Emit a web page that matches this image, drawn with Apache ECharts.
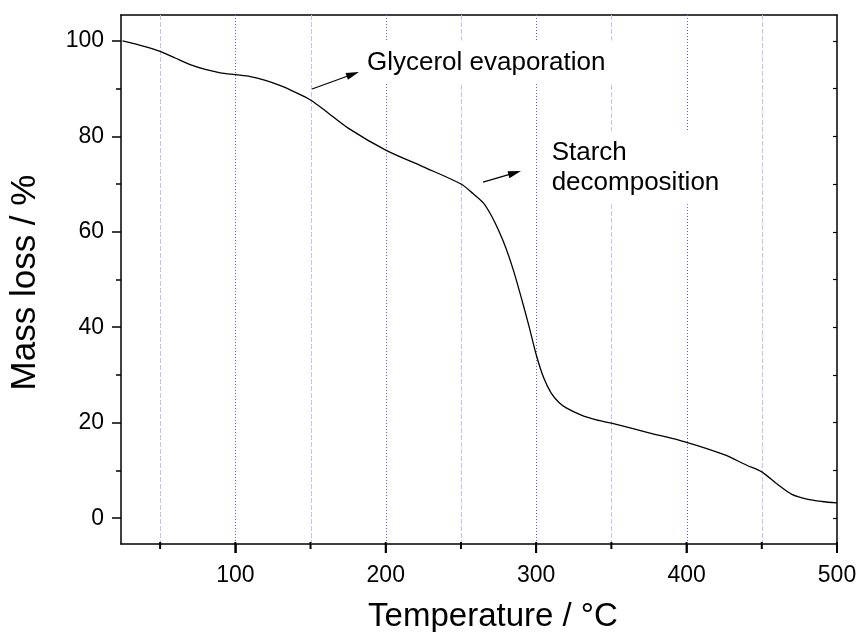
<!DOCTYPE html>
<html>
<head>
<meta charset="utf-8">
<script src="https://cdn.jsdelivr.net/npm/echarts@6/dist/echarts.min.js"></script>
<style>
html,body{margin:0;padding:0;background:#fff;}
#c{width:861px;height:632px;}
</style>
</head>
<body>
<div id="c"></div>
<script>
// ---- data ----
const temps = [25,40,50,60,70,80,90,100,110,120,130,140,150,160,175,200,225,250,258,265,270,275,280,285,290,295,300,305,310,315,320,330,340,350,375,400,425,440,450,460,470,480,490,500];
const massLoss = [100.0,98.8,97.8,96.4,95.0,94.0,93.3,92.9,92.5,91.7,90.6,89.2,87.6,85.3,81.7,77.1,73.6,70.0,68.0,66.0,63.5,60.3,56.5,51.8,46.3,40.5,34.3,29.4,26.2,24.3,23.1,21.6,20.6,19.9,17.9,15.9,13.3,11.1,9.7,7.2,5.0,4.0,3.5,3.2];
const xTickLabels = [100,200,300,400,500];
const xMinorTicks = [50,150,250,350,450];
const yTickLabels = [0,20,40,60,80,100];
const yMinorTicks = [10,30,50,70,90];
const yRightTicks = [0,10,20,30,40,50,60,70,80,90,100];
const majorGrid = [100,200,300,400];
const minorGrid = [50,150,250,350,450];
const arrows = [
  {from:[151.0,89.9], to:[182.2,93.45]},
  {from:[264.7,70.4], to:[289.9,72.7]}
];
const notes = [
  {text:'Glycerol evaporation', at:[187.5,98.6]},
  {text:'Starch\ndecomposition', at:[310.3,79.6]}
];
const xMin = 24, xMax = 500, yMin = -5.4, yMax = 105.4;

const FONT = 'Arial, "Liberation Sans", sans-serif';
const chart = echarts.init(document.getElementById('c'), null, {renderer:'canvas'});

const option = {
  animation:false,
  backgroundColor:'#fff',
  textStyle:{fontFamily:FONT},
  grid:{left:121, right:24, top:15, bottom:88, containLabel:false, outerBoundsMode:'none'},
  xAxis:[
    {type:'value', min:xMin, max:xMax, position:'bottom',
     name:'Temperature / °C', nameLocation:'middle', nameGap:56,
     nameTextStyle:{fontSize:33, color:'#000', fontFamily:FONT, padding:[0,0,0,28]},
     axisLine:{show:true, onZero:false, lineStyle:{color:'#000', width:1.5}},
     axisTick:{show:true, inside:false, length:9, customValues:xTickLabels, lineStyle:{color:'#000', width:1.5}},
     axisLabel:{show:true, customValues:xTickLabels, fontSize:23, color:'#000', margin:20, fontFamily:FONT},
     splitLine:{show:false}, minorSplitLine:{show:false}},
    {type:'value', min:xMin, max:xMax, position:'top',
     axisLine:{show:true, onZero:false, lineStyle:{color:'#000', width:1.5}},
     axisTick:{show:false}, axisLabel:{show:false}, splitLine:{show:false}}
  ],
  yAxis:[
    {type:'value', min:yMin, max:yMax, position:'left',
     name:'Mass loss / %', nameLocation:'middle', nameGap:78, nameRotate:90,
     nameTextStyle:{fontSize:35, color:'#000', fontFamily:FONT, padding:[0,6,0,0]},
     axisLine:{show:true, onZero:false, lineStyle:{color:'#000', width:1.5}},
     axisTick:{show:true, inside:false, length:9, customValues:yTickLabels, lineStyle:{color:'#000', width:1.5}},
     axisLabel:{show:true, customValues:yTickLabels, fontSize:23, color:'#000', margin:17, fontFamily:FONT},
     splitLine:{show:false}},
    {type:'value', min:yMin, max:yMax, position:'left',
     axisLine:{show:false, onZero:false},
     axisTick:{show:true, inside:false, length:5, customValues:yMinorTicks, lineStyle:{color:'#000', width:1.5}},
     axisLabel:{show:false}, splitLine:{show:false}},
    {type:'value', min:yMin, max:yMax, position:'right',
     axisLine:{show:true, onZero:false, lineStyle:{color:'#000', width:1.5}},
     axisTick:{show:true, inside:true, length:4, customValues:yRightTicks, lineStyle:{color:'#000', width:1.2}},
     axisLabel:{show:false}, splitLine:{show:false}}
  ],
  series:[
    {type:'line', xAxisIndex:0, yAxisIndex:0, z:3,
     data: temps.map((t,i)=>[t, massLoss[i]]),
     showSymbol:false, symbol:'none', smooth:0.3,
     lineStyle:{color:'#000', width:1.3}}
  ]
};
chart.setOption(option);

// grid lines, x ticks and annotations positioned through the chart's own scales
const toPx = p => chart.convertToPixel({xAxisIndex:0, yAxisIndex:0}, p);
const graphics = [];
const yTop = toPx([xMin, yMax])[1], yBot = toPx([xMin, yMin])[1];
majorGrid.forEach((v, i) => {
  const x = Math.round(toPx([v, 0])[0]) + 0.5;
  graphics.push({type:'line', id:'gM'+i, z:1, silent:true, shape:{x1:x, y1:yTop, x2:x, y2:yBot},
    style:{stroke:'#5c5cff', lineWidth:1, lineDash:[1,2]}});
});
minorGrid.forEach((v, i) => {
  const x = Math.round(toPx([v, 0])[0]) + 0.5;
  graphics.push({type:'line', id:'gm'+i, z:1, silent:true, shape:{x1:x, y1:yTop, x2:x, y2:yBot},
    style:{stroke:'#c2c2ff', lineWidth:1, lineDash:[5,2]}});
});
xTickLabels.forEach((v, i) => {
  const x = toPx([v, 0])[0];
  graphics.push({type:'rect', id:'tM'+i, z:150, silent:true,
    shape:{x:x-1, y:yBot-2, width:2, height:11}, style:{fill:'#000'}});
});
xMinorTicks.forEach((v, i) => {
  const x = toPx([v, 0])[0];
  graphics.push({type:'rect', id:'tm'+i, z:150, silent:true,
    shape:{x:x-1, y:yBot-2, width:2, height:7}, style:{fill:'#000'}});
});
notes.forEach((n, i) => {
  const p = toPx(n.at);
  const pad = [7,8,6,8];
  graphics.push({type:'text', id:'n'+i, z:100, x:p[0]-pad[3], y:p[1]-pad[0], silent:true,
    style:{text:n.text, fontSize:26, fontFamily:FONT, fill:'#000', lineHeight:30,
           backgroundColor:'#fff', padding:pad, align:'left', verticalAlign:'top'}});
});
arrows.forEach((a, i) => {
  const s = toPx(a.from), e = toPx(a.to);
  const dx = e[0]-s[0], dy = e[1]-s[1], L = Math.hypot(dx,dy);
  const ux = dx/L, uy = dy/L, px = -uy, py = ux;
  const hl = 13, hw = 3.6;
  const bx = e[0]-ux*hl, by = e[1]-uy*hl;
  graphics.push({type:'line', id:'al'+i, z:101, silent:true,
    shape:{x1:s[0], y1:s[1], x2:bx+ux*2, y2:by+uy*2}, style:{stroke:'#000', lineWidth:1.2}});
  graphics.push({type:'polygon', id:'ah'+i, z:101, silent:true,
    shape:{points:[[e[0],e[1]],[bx+px*hw, by+py*hw],[bx-px*hw, by-py*hw]]}, style:{fill:'#000'}});
});
chart.setOption({graphic:{elements:graphics}});
</script>
</body>
</html>
